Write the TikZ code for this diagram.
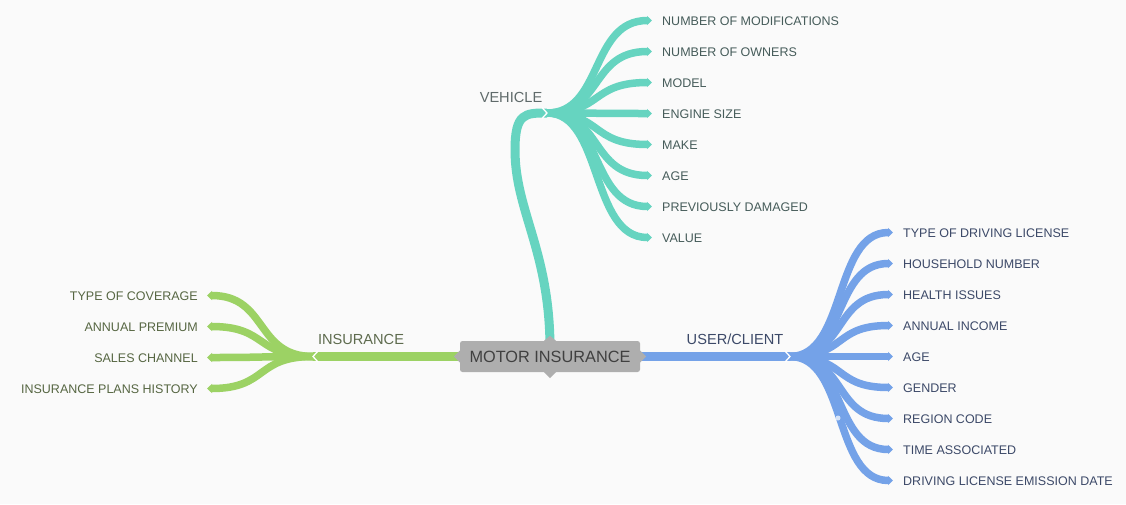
\documentclass[tikz,border=0pt]{standalone}
\usepackage{fontspec}
\setmainfont{Liberation Sans}
\usetikzlibrary{arrows.meta}
\definecolor{bgc}{HTML}{FAFAFA}
\definecolor{vteal}{HTML}{66D4C0}
\definecolor{vgreen}{HTML}{9CD264}
\definecolor{vblue}{HTML}{74A2E8}
\definecolor{boxgray}{HTML}{AEAEAE}
\definecolor{tteal}{HTML}{465C5A}
\definecolor{tgreen}{HTML}{566642}
\definecolor{tblue}{HTML}{3C4968}
\definecolor{tmid}{HTML}{5F6A6A}
\tikzset{
  leaf/.style={line width=7.5pt, -{Triangle[length=5pt,width=9pt]}},
  bar/.style={line width=9pt},
  lbl/.style={font=\fontsize{12.5}{14}\selectfont, inner sep=0pt, text height=9pt, text depth=0pt},
  midlbl/.style={font=\fontsize{14.6}{16}\selectfont, inner sep=0pt, text height=10.4pt, text depth=0pt},
  notch/.style={white, line width=1.3pt},
}
\begin{document}
\begin{tikzpicture}[x=1pt,y=-1pt]
\useasboundingbox (0,0) rectangle (1126,504);
\fill[bgc] (0,0) rectangle (1126,504);

% hubs
\coordinate (vhub) at (547,113);
\coordinate (ihub) at (313,356.5);
\coordinate (chub) at (790,356.5);
\coordinate (cpos) at (550,356.5);

% main branches
\draw[bar, vteal] (cpos) -- (550,345) .. controls (549,250) and (515,210) .. (515,150)
   .. controls (515,113) and (525,113) .. (vhub);
\draw[bar, vgreen] (cpos) -- (ihub);
\draw[bar, vblue] (cpos) -- (chub);

% vehicle leaves
\foreach \t [count=\i] in {NUMBER OF MODIFICATIONS, NUMBER OF OWNERS, MODEL, ENGINE SIZE, MAKE, AGE, PREVIOUSLY DAMAGED, VALUE} {
  \pgfmathsetmacro\yy{20.5+31*(\i-1)}
  \coordinate (v\i) at (652,\yy);
  \node[lbl, text=tteal, anchor=west] (vl\i) at (662,\yy) {\t};
  \draw[leaf, vteal] (vhub) .. controls (603,113) and (590,\yy) .. (v\i);
}
% insurance leaves
\foreach \t [count=\i] in {TYPE OF COVERAGE, ANNUAL PREMIUM, SALES CHANNEL, INSURANCE PLANS HISTORY} {
  \pgfmathsetmacro\yy{295.5+31*(\i-1)}
  \coordinate (g\i) at (207,\yy);
  \node[lbl, text=tgreen, anchor=east] (gl\i) at (198,\yy) {\t};
  \draw[leaf, vgreen] (ihub) .. controls (255,356.5) and (268,\yy) .. (g\i);
}
% client leaves
\foreach \t [count=\i] in {TYPE OF DRIVING LICENSE, HOUSEHOLD NUMBER, HEALTH ISSUES, ANNUAL INCOME, AGE, GENDER, REGION CODE, TIME ASSOCIATED, DRIVING LICENSE EMISSION DATE} {
  \pgfmathsetmacro\yy{232.5+31*(\i-1)}
  \coordinate (c\i) at (893,\yy);
  \node[lbl, text=tblue, anchor=west] (cl\i) at (903,\yy) {\t};
  \draw[leaf, vblue] (chub) .. controls (847,356.5) and (833,\yy) .. (c\i);
}

% notches at hubs
\draw[notch] (542,107.5) -- (547,113) -- (542,118.5);
\draw[notch] (318,351) -- (313,356.5) -- (318,362);
\draw[notch] (785,351) -- (790,356.5) -- (785,362);

\node[circle, fill=vblue!30!white, inner sep=0pt, minimum size=5pt] (dot) at (838,418) {};

% branch labels
\node[midlbl, text=tmid] (veh) at (511,97.5) {VEHICLE};
\node[midlbl, text=tgreen!80!gray] (ins) at (361,339.5) {INSURANCE};
\node[midlbl, text=tblue] (usr) at (735,339.5) {USER/CLIENT};

% central node
\node[fill=boxgray, rounded corners=2.5pt, minimum width=180pt, minimum height=31pt,
      inner sep=0pt, text=black!75, font=\fontsize{16.3}{18}\selectfont] (center) at (cpos) {MOTOR INSURANCE};
\fill[boxgray] ([yshift=6pt]center.west) -- ++(-6,6) -- ++(6,6) -- cycle;
\fill[boxgray] ([yshift=6pt]center.east) -- ++(6,6) -- ++(-6,6) -- cycle;
\fill[boxgray] ([xshift=-6pt]center.north) -- ++(6,-5) -- ++(6,5) -- cycle;
\fill[boxgray] ([xshift=-6pt]center.south) -- ++(6,6) -- ++(6,-6) -- cycle;
\end{tikzpicture}
\end{document}
